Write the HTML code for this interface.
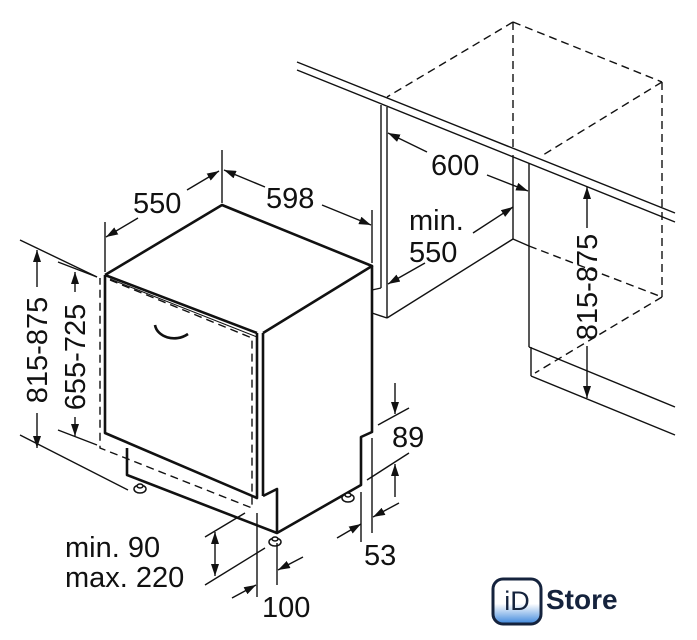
<!DOCTYPE html>
<html><head><meta charset="utf-8"><style>
html,body{margin:0;padding:0;background:#fff;}
svg{display:block;}
text{font-family:"Liberation Sans",Arial,sans-serif;fill:#111;}
</style></head><body>
<svg width="697" height="640" viewBox="0 0 697 640" xmlns="http://www.w3.org/2000/svg">
<defs>
<marker id="a" viewBox="0 0 12 8" refX="12" refY="4" markerWidth="12" markerHeight="8" markerUnits="userSpaceOnUse" orient="auto-start-reverse"><path d="M0,0 L12,4 L0,8 Z" fill="#111"/></marker>
<linearGradient id="g" x1="0" y1="0" x2="0" y2="1"><stop offset="0.55" stop-color="#fff"/><stop offset="1" stop-color="#3c86dc"/></linearGradient>
</defs>
<g fill="none" stroke="#111" stroke-width="1.4">
<line x1="297" y1="62" x2="675" y2="213"/>
<line x1="297" y1="70" x2="675" y2="222"/>
<line x1="381" y1="105" x2="381" y2="288"/>
<line x1="387" y1="107" x2="387" y2="318"/>
<line x1="372" y1="313" x2="387" y2="318"/>
<line x1="381" y1="288" x2="372" y2="290"/>
<line x1="387" y1="318" x2="513" y2="239"/>
<line x1="513" y1="155" x2="513" y2="239"/>
<line x1="529" y1="163" x2="529" y2="347"/>
<line x1="513" y1="239" x2="529" y2="246"/>
<line x1="529" y1="347" x2="675" y2="407"/>
<line x1="531" y1="347" x2="531" y2="376"/>
<line x1="531" y1="376" x2="675" y2="435"/>
<g stroke-dasharray="8,5">
<line x1="513" y1="22" x2="387" y2="97"/>
<line x1="513" y1="22" x2="662" y2="82"/>
<line x1="662" y1="82" x2="543" y2="155"/>
<line x1="513" y1="22" x2="513" y2="150"/>
<line x1="662" y1="82" x2="662" y2="297"/>
<line x1="529" y1="246" x2="662" y2="297"/>
<line x1="662" y1="297" x2="535" y2="373"/>
<polyline points="110,280 252,338 252,508 100,448 100,278"/>
</g>
</g>
<g fill="none" stroke="#111" stroke-width="2.6" stroke-linejoin="round">
<polyline points="105,275 222,205 372,266 263,333"/>
<line x1="105" y1="275" x2="257" y2="333"/>
<polyline points="105,275 105,433 257,498 257,333"/>
<line x1="263" y1="333" x2="263" y2="496"/>
<polyline points="372,266 372,432 361,437 361,485 277,533 127,475 127,448"/>
<polyline points="263,496 277,489 277,533"/>
<path d="M155,325 C157,337 175,343 188,334"/>
</g>
<line x1="110" y1="279" x2="257" y2="337" stroke="#111" stroke-width="1"/>
<g fill="#fff" stroke="#111" stroke-width="1.5">
<ellipse cx="140" cy="489" rx="6" ry="4"/><ellipse cx="140" cy="486" rx="3" ry="2"/>
<ellipse cx="348" cy="498" rx="6" ry="4"/><ellipse cx="348" cy="495" rx="3" ry="2"/>
<ellipse cx="275" cy="542" rx="6" ry="4"/><ellipse cx="275" cy="539" rx="3" ry="2"/>
</g>
<g fill="none" stroke="#111" stroke-width="1.4">
<line x1="105" y1="222" x2="105" y2="272"/>
<line x1="222" y1="150" x2="222" y2="203"/>
<line x1="372" y1="210" x2="372" y2="263"/>
<line x1="187" y1="190" x2="219" y2="171" marker-end="url(#a)"/>
<line x1="138" y1="218" x2="106" y2="237" marker-end="url(#a)"/>
<line x1="265" y1="187" x2="224" y2="170" marker-end="url(#a)"/>
<line x1="322" y1="205" x2="371" y2="225" marker-end="url(#a)"/>
<line x1="427" y1="152" x2="388" y2="133" marker-end="url(#a)"/>
<line x1="487" y1="175" x2="528" y2="191" marker-end="url(#a)"/>
<line x1="425" y1="263" x2="388" y2="284" marker-end="url(#a)"/>
<line x1="473" y1="233" x2="513" y2="207" marker-end="url(#a)"/>
<line x1="20" y1="240" x2="97" y2="277"/>
<line x1="20" y1="435" x2="128" y2="490"/>
<line x1="58" y1="262" x2="97" y2="277"/>
<line x1="58" y1="430" x2="97" y2="445"/>
<line x1="37" y1="287" x2="37" y2="250" marker-end="url(#a)"/>
<line x1="37" y1="413" x2="37" y2="448" marker-end="url(#a)"/>
<line x1="75" y1="292" x2="75" y2="272" marker-end="url(#a)"/>
<line x1="75" y1="417" x2="75" y2="436" marker-end="url(#a)"/>
<line x1="587" y1="228" x2="587" y2="187" marker-end="url(#a)"/>
<line x1="587" y1="346" x2="587" y2="398" marker-end="url(#a)"/>
<line x1="378" y1="425" x2="409" y2="408"/>
<line x1="367" y1="480" x2="409" y2="453"/>
<line x1="395" y1="383" x2="395" y2="414" marker-end="url(#a)"/>
<line x1="395" y1="497" x2="395" y2="464" marker-end="url(#a)"/>
<line x1="361" y1="492" x2="361" y2="542"/>
<line x1="372" y1="438" x2="372" y2="533"/>
<line x1="337" y1="538" x2="361" y2="524" marker-end="url(#a)"/>
<line x1="399" y1="503" x2="373" y2="517" marker-end="url(#a)"/>
<line x1="205" y1="537" x2="245" y2="513"/>
<line x1="205" y1="585" x2="265" y2="548"/>
<line x1="215" y1="532" x2="215" y2="576" marker-start="url(#a)" marker-end="url(#a)"/>
<line x1="257" y1="513" x2="257" y2="597"/>
<line x1="277" y1="543" x2="277" y2="585"/>
<line x1="232" y1="598" x2="256" y2="585" marker-end="url(#a)"/>
<line x1="303" y1="557" x2="278" y2="570" marker-end="url(#a)"/>
</g>
<g font-size="29">
<text x="133" y="213">550</text>
<text x="266" y="208">598</text>
<text x="431" y="175">600</text>
<text x="409" y="230">min.</text>
<text x="409" y="262">550</text>
<text x="392" y="447">89</text>
<text x="364" y="565">53</text>
<text x="262" y="617">100</text>
<text x="65" y="557">min. 90</text>
<text x="65" y="587">max. 220</text>
<text transform="translate(47,350) rotate(-90)" text-anchor="middle">815-875</text>
<text transform="translate(85,357) rotate(-90)" text-anchor="middle">655-725</text>
<text transform="translate(597,287) rotate(-90)" text-anchor="middle">815-875</text>
</g>
<rect x="493" y="579" width="48" height="45" rx="10" fill="url(#g)" stroke="#15233d" stroke-width="3"/>
<text x="517" y="610" font-size="27" text-anchor="middle" style="fill:#15233d">iD</text>
<text x="546" y="609" font-size="28" font-weight="bold" style="fill:#15233d">Store</text>
</svg>
</body></html>
